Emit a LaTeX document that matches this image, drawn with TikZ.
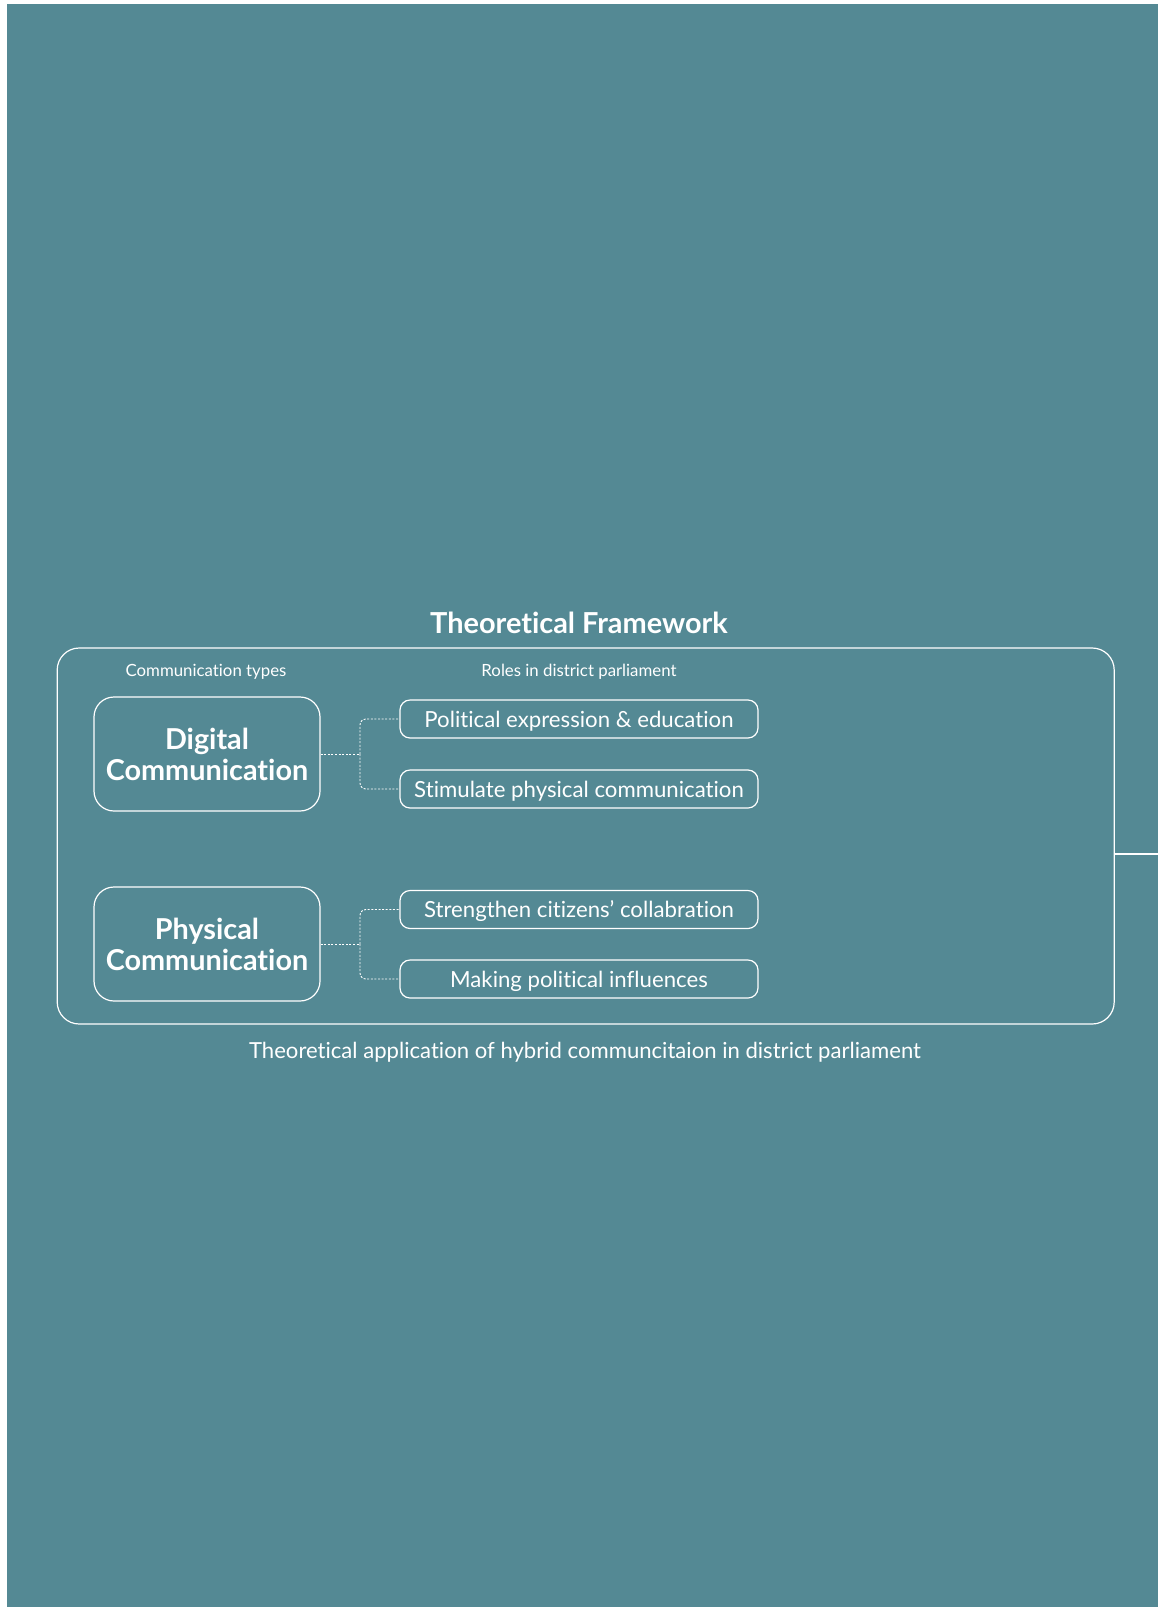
\documentclass[tikz,border=0pt]{standalone}
\usepackage{fontspec}
\setmainfont{Lato}[Ligatures=NoCommon]
\definecolor{panel}{RGB}{84,137,148}
\tikzset{
  line/.style={draw=white, line width=1.2pt},
  bigbox/.style={line, rounded corners=20pt, minimum width=226pt, minimum height=114pt,
    align=center, text=white, font=\fontsize{28.8}{31}\selectfont\bfseries, inner sep=0pt},
  rolebox/.style={line, rounded corners=10pt, minimum width=358pt, minimum height=38pt,
    text=white, font=\fontsize{22.2}{26}\selectfont, inner sep=0pt,
    text height=16pt, text depth=0pt},
  heading/.style={text=white, font=\fontsize{16.8}{20}\selectfont, inner sep=0pt},
  conn/.style={draw=white, line width=0.9pt, dash pattern=on 2pt off 1.6pt},
}
\begin{document}
\begin{tikzpicture}[x=1pt, y=-1pt]
  \useasboundingbox (0,0) rectangle (1158,1607);
  \fill[white] (0,0) rectangle (1158,1607);
  \fill[panel] (7,4) rectangle (1158,1607);

  % title and frame
  \node[text=white, font=\fontsize{28.9}{34}\selectfont\bfseries, inner sep=0pt] (title) at (579,623) {Theoretical Framework};
  \node[line, rounded corners=22pt, minimum width=1057pt, minimum height=376pt, inner sep=0pt] (frame) at (585.7,836) {};
  \coordinate (exit) at (1158,854);
  \draw[line] (frame.east |- exit) -- (exit);

  % column headings
  \node[heading] (h1) at (206,672) {Communication types};
  \node[heading] (h2) at (579,672) {Roles in district parliament};

  % communication types
  \node[bigbox] (dig) at (207,754) {Digital\\Communication};
  \node[bigbox] (phy) at (207,944) {Physical\\Communication};

  % roles
  \node[rolebox] (r1) at (579,719) {Political expression \& education};
  \node[rolebox] (r2) at (579,789) {Stimulate physical communication};
  \node[rolebox] (r3) at (579,909.5) {Strengthen citizens’ collabration};
  \node[rolebox] (r4) at (579,979) {Making political influences};

  % dotted connectors
  \coordinate (j1) at (360,754);
  \coordinate (j2) at (360,944);
  \draw[conn] (dig.east) -- (j1);
  \draw[conn, rounded corners=6pt] (j1) |- (r1.west);
  \draw[conn, rounded corners=6pt] (j1) |- (r2.west);
  \draw[conn] (phy.east) -- (j2);
  \draw[conn, rounded corners=6pt] (j2) |- (r3.west);
  \draw[conn, rounded corners=6pt] (j2) |- (r4.west);

  % caption
  \node[text=white, font=\fontsize{22.1}{26}\selectfont, inner sep=0pt] (cap) at (585,1052)
    {Theoretical application of hybrid communcitaion in district parliament};
\end{tikzpicture}
\end{document}
